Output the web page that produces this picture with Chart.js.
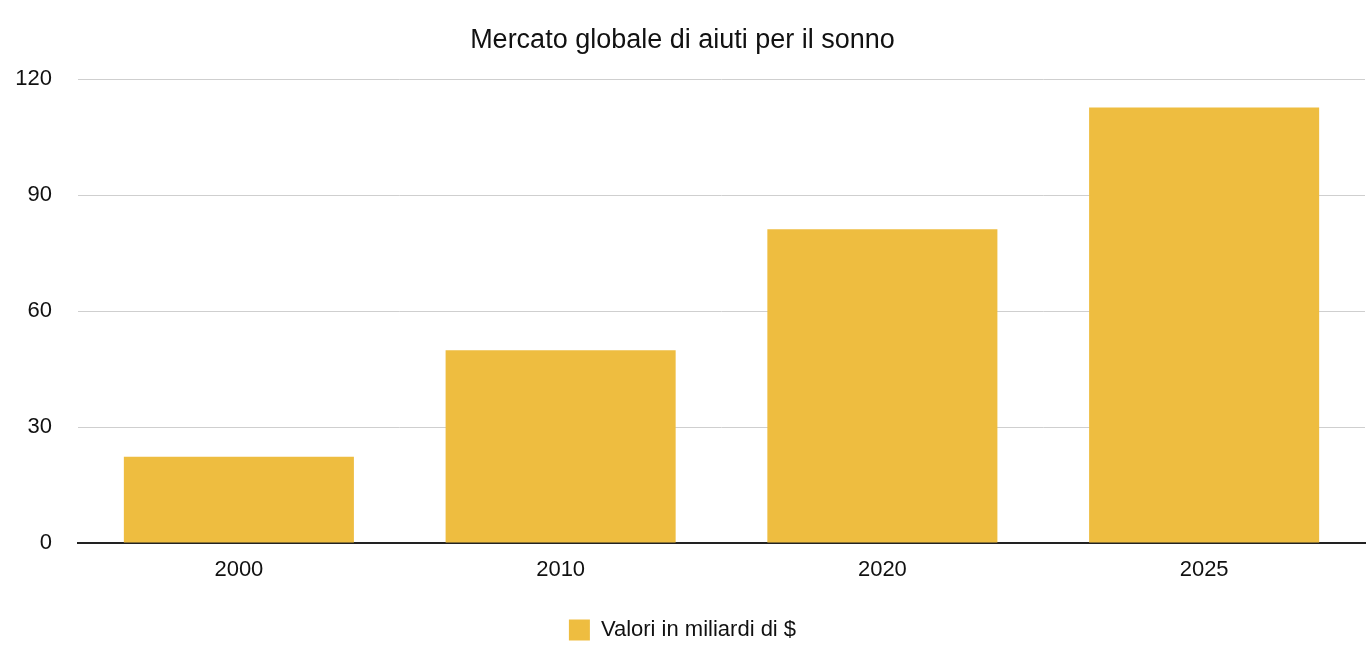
<!DOCTYPE html>
<html>
<head>
<meta charset="utf-8">
<script src="https://cdn.jsdelivr.net/npm/chart.js@4"></script>
<style>
  html, body { margin: 0; padding: 0; background: #fff; }
  #wrap { width: 1367px; height: 661px; }
</style>
</head>
<body>
<div id="wrap"><canvas id="outputChart"></canvas></div>
<script>
const years = ['2000', '2010', '2020', '2025'];
const values = [22.3, 49.9, 81.2, 112.7];
const yTicks = [0, 30, 60, 90, 120];
const seriesLabel = 'Valori in miliardi di $';
const chartTitle = 'Mercato globale di aiuti per il sonno';

const font = "'Liberation Sans', Arial, sans-serif";

const ctx = document.getElementById('outputChart').getContext('2d');
window.myChart = new Chart(ctx, {
    type: 'bar',
    data: {
        labels: years,
        datasets: [{
            label: seriesLabel,
            data: values,
            backgroundColor: '#EEBD40',
            borderWidth: 0,
            barPercentage: 0.715,
            categoryPercentage: 1
        }]
    },
    options: {
        responsive: true,
        maintainAspectRatio: false,
        animation: false,
        layout: { padding: { left: 0, right: 2, top: 14, bottom: 10 } },
        plugins: {
            title: {
                display: true,
                text: chartTitle,
                color: '#111',
                font: { family: font, size: 27, weight: 'normal' },
                padding: { top: 10, bottom: 23 }
            },
            legend: {
                position: 'bottom',
                labels: {
                    color: '#111',
                    font: { family: font, size: 22 },
                    boxWidth: 21,
                    boxHeight: 21,
                    padding: 10
                }
            },
            tooltip: { enabled: false }
        },
        scales: {
            x: {
                afterFit: (scale) => { scale.height = 66; },
                grid: { display: false },
                border: { display: true, color: '#222', width: 2 },
                ticks: { color: '#111', font: { family: font, size: 22 }, padding: 6 }
            },
            y: {
                min: 0,
                max: 120,
                afterFit: (scale) => { scale.width = 78; },
                afterBuildTicks: (scale) => { scale.ticks = yTicks.map(v => ({ value: v })); },
                grid: { color: '#cfcfcf', lineWidth: 1, drawTicks: false },
                border: { display: false },
                ticks: { color: '#111', font: { family: font, size: 22 }, padding: 26 }
            }
        }
    }
});
</script>
</body>
</html>
